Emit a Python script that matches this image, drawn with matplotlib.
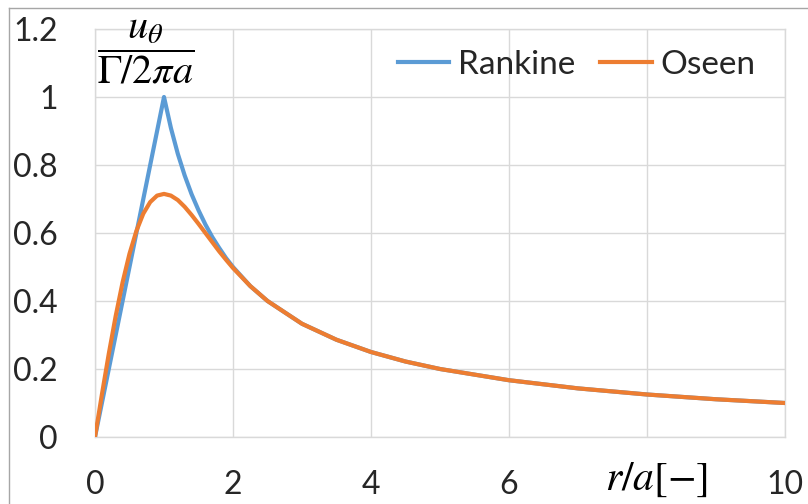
import matplotlib
matplotlib.use("Agg")
import matplotlib.pyplot as plt
from matplotlib.lines import Line2D

# r/a values
r = [0, 0.1, 0.2, 0.3, 0.4, 0.5, 0.6, 0.7, 0.8, 0.9, 1.0,
     1.1, 1.2, 1.3, 1.4, 1.5, 1.6, 1.7, 1.8, 1.9, 2.0,
     2.25, 2.5, 3.0, 3.5, 4.0, 4.5, 5.0, 6.0, 7.0, 8.0, 9.0, 10.0]
rankine = [0, 0.1, 0.2, 0.3, 0.4, 0.5, 0.6, 0.7, 0.8, 0.9, 1.0,
           0.909, 0.833, 0.769, 0.714, 0.667, 0.625, 0.588, 0.556, 0.526, 0.5,
           0.444, 0.4, 0.333, 0.286, 0.25, 0.222, 0.2, 0.167, 0.143, 0.125, 0.111, 0.1]
oseen = [0, 0.125, 0.245, 0.356, 0.455, 0.539, 0.606, 0.657, 0.691, 0.710, 0.715,
         0.710, 0.697, 0.677, 0.653, 0.627, 0.600, 0.573, 0.546, 0.521, 0.497,
         0.444, 0.400, 0.333, 0.286, 0.25, 0.222, 0.2, 0.167, 0.143, 0.125, 0.111, 0.1]

xticks = [0, 2, 4, 6, 8, 10]
xticklabels = ["0", "2", "4", "6", "", "10"]  # the "8" is hidden behind the axis title
yticks = [0, 0.2, 0.4, 0.6, 0.8, 1.0, 1.2]
yticklabels = ["0", "0.2", "0.4", "0.6", "0.8", "1", "1.2"]

plt.rcParams['font.family'] = ['Lato', 'DejaVu Sans']
plt.rcParams['mathtext.fontset'] = 'stix'

W, H = 808, 504
fig = plt.figure(figsize=(W / 100, H / 100), dpi=100)
ax = fig.add_axes([95 / W, 1 - 437 / H, (785 - 95) / W, (437 - 29) / H])

grid_c = '#d9d9d9'
ax.plot(r, rankine, color='#5B9BD5', lw=3, label='Rankine', solid_joinstyle='round', zorder=3)
ax.plot(r, oseen, color='#ED7D31', lw=3, label='Oseen', solid_joinstyle='round', zorder=4)

ax.set_xlim(0, 10)
ax.set_ylim(0, 1.2)
ax.set_xticks(xticks)
ax.set_xticklabels(xticklabels)
ax.set_yticks(yticks)
ax.set_yticklabels(yticklabels)
ax.tick_params(length=0, labelsize=23, colors='#262626')
ax.tick_params(axis='y', pad=27)
ax.tick_params(axis='x', pad=24)
ax.grid(True, color=grid_c, lw=1)
for s in ax.spines.values():
    s.set_color(grid_c)
    s.set_linewidth(1)

leg = ax.legend(loc='center right', bbox_to_anchor=(0.9565, 0.912), ncol=2, frameon=False,
                fontsize=24, handlelength=1.55, handletextpad=0.25, columnspacing=0.75,
                borderpad=0, borderaxespad=0, labelcolor='#262626')

fig.text(146 / W, 1 - 52 / H, r'$\dfrac{u_\theta}{\Gamma/2\pi a}$', fontsize=29,
         ha='center', va='center', color='black')
fig.text(657 / W, 1 - 480 / H, r'$r/a[-]$', fontsize=30, ha='center', va='center', color='black')

# outer chart border
fig.add_artist(Line2D([9 / W, 9 / W], [0, 1 - 8 / H], transform=fig.transFigure, color='#a6a6a6', lw=1))
fig.add_artist(Line2D([9 / W, 1], [1 - 8 / H, 1 - 8 / H], transform=fig.transFigure, color='#a6a6a6', lw=1))

fig.savefig('out.png', dpi=100)
